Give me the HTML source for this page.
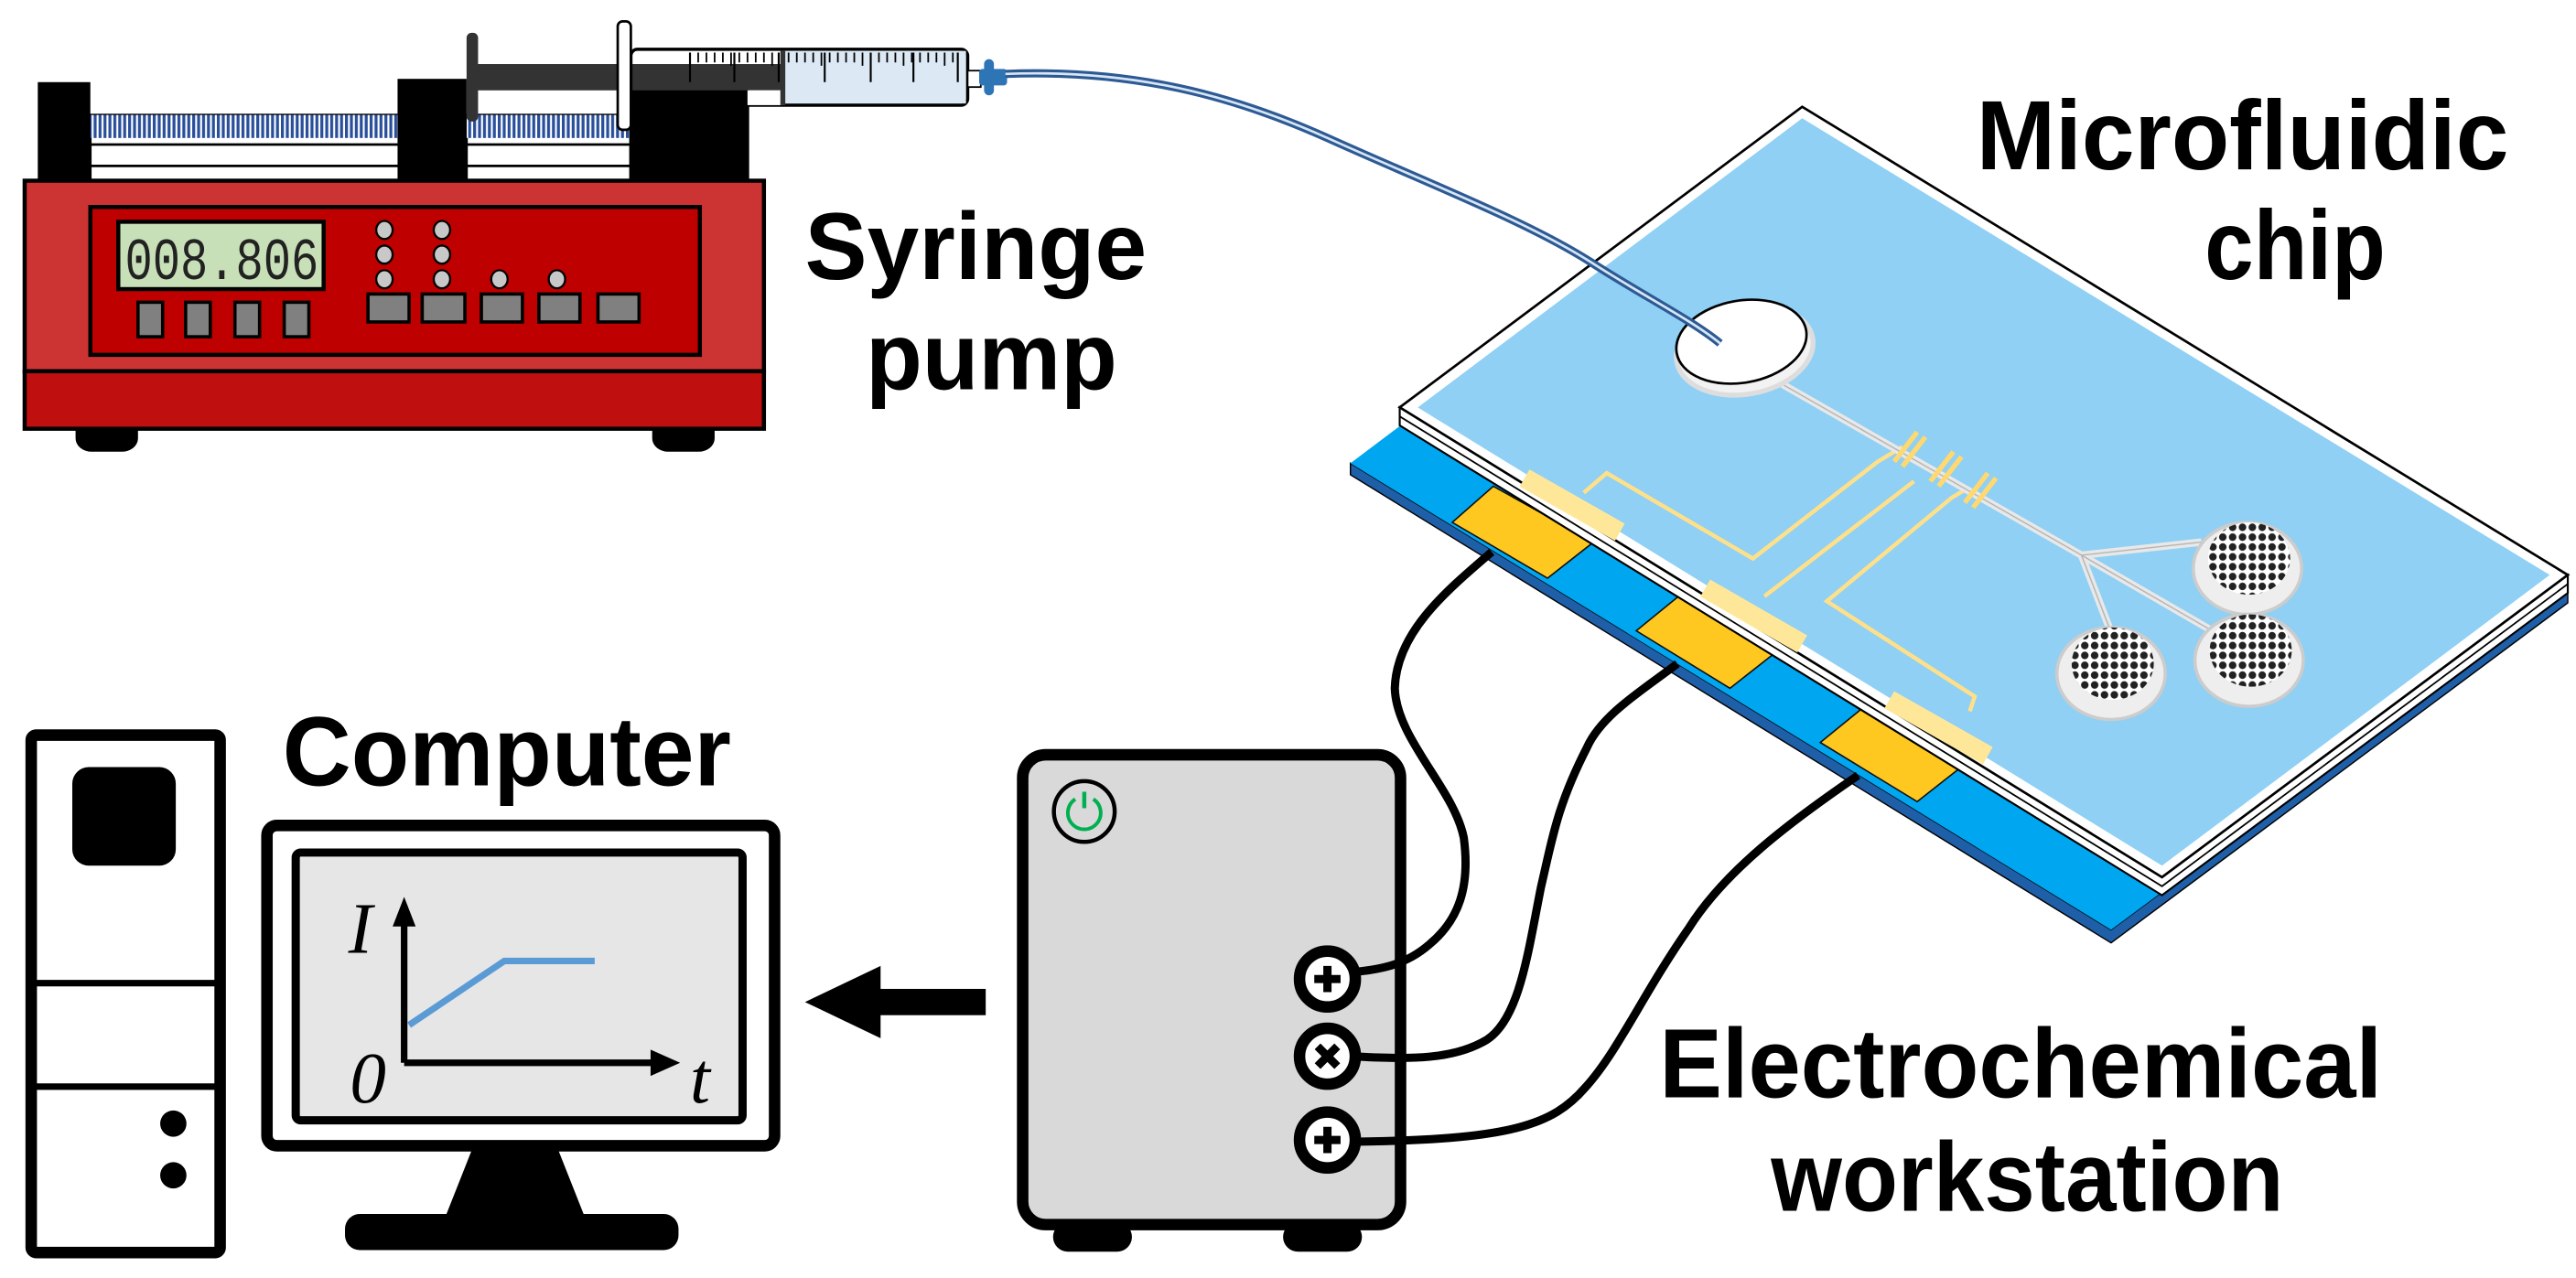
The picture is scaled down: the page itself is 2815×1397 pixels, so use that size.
<!DOCTYPE html>
<html><head><meta charset="utf-8"><style>
html,body{margin:0;padding:0;background:#fff}
svg{display:block}
text.l{font-family:"Liberation Sans",Arial,sans-serif;font-weight:bold;fill:#000}
text.m{font-family:"Liberation Serif",serif;font-style:italic;fill:#000}
</style></head><body>
<svg width="2815" height="1397" viewBox="0 0 1568 778" preserveAspectRatio="none" xmlns="http://www.w3.org/2000/svg">
<rect width="1568" height="778" fill="#fff"/>
<!-- Syringe pump rails -->
<rect x="55" y="70" width="188" height="40" fill="#fff" stroke="#000" stroke-width="1.5"/>
<rect x="284" y="70" width="100" height="40" fill="#fff" stroke="#000" stroke-width="1.5"/>
<g stroke="#000" stroke-width="1.5"><line x1="55" y1="88" x2="384" y2="88"/><line x1="55" y1="101" x2="384" y2="101"/></g>
<defs><pattern id="thr" width="3" height="10" patternUnits="userSpaceOnUse"><rect width="3" height="10" fill="#fff"/><rect width="1.8" height="10" fill="#2a4f9a"/></pattern>
<pattern id="pil" width="6" height="6" patternUnits="userSpaceOnUse"><rect width="6" height="6" fill="#fff"/><circle cx="3" cy="3" r="2.3" fill="#222"/></pattern></defs>
<rect x="55" y="70" width="188" height="14" fill="url(#thr)"/>
<rect x="284" y="70" width="100" height="14" fill="url(#thr)"/>
<rect x="23" y="50" width="32" height="60" fill="#000"/>
<rect x="242" y="48" width="42" height="62" fill="#000"/>
<rect x="383" y="51" width="73" height="59" fill="#000"/>
<!-- plunger & syringe -->
<rect x="290" y="39" width="187" height="16" fill="#333"/>
<rect x="284" y="20" width="7" height="54" rx="3" fill="#333"/>
<rect x="384" y="30" width="205" height="34" rx="4" fill="none" stroke="#000" stroke-width="2"/>
<rect x="477" y="31" width="111" height="32" fill="#dce9f5"/>
<rect x="455" y="55" width="22" height="9" fill="#fff"/>
<rect x="475" y="31" width="3" height="33" fill="#333"/>
<g stroke="#000" stroke-width="1">
<path d="M420 32v8M425 32v6M430 32v6M435 32v6M440 32v6M445 32v8M450 32v6M455 32v6M460 32v6M465 32v6M470 32v8M480 32v6M485 32v6M490 32v6M495 32v6M500 32v8M505 32v6M510 32v6M515 32v6M520 32v6M525 32v8M530 32v6M535 32v6M540 32v6M545 32v6M550 32v8M555 32v6M560 32v6M565 32v6M570 32v6M575 32v8M580 32v6"/>
<path d="M420 32v18M447 32v18M474 32v18M502 32v18M530 32v18M556 32v18M583 32v18" stroke-width="1.2"/>
</g>
<rect x="376" y="13" width="8" height="66" rx="3" fill="#fff" stroke="#000" stroke-width="1.5"/>
<rect x="589" y="43" width="8" height="10" fill="#fff" stroke="#000" stroke-width="1"/>
<rect x="596" y="42" width="17" height="10" rx="2" fill="#2e75b6"/>
<rect x="599" y="36" width="6" height="22" rx="3" fill="#2e75b6"/>
<!-- pump body -->
<rect x="15" y="110" width="450" height="116" fill="#cc3333" stroke="#000" stroke-width="2.5"/>
<rect x="15" y="226" width="450" height="35" fill="#c00f0f" stroke="#000" stroke-width="2.5"/>
<rect x="55" y="126" width="371" height="90" fill="#bf0000" stroke="#000" stroke-width="2.5"/>
<rect x="72" y="135" width="125" height="41" fill="#c8e0b8" stroke="#000" stroke-width="2.5"/>
<text x="76" y="170" font-family="Liberation Mono,monospace" font-size="36" textLength="118" lengthAdjust="spacingAndGlyphs" fill="#222">008.806</text>
<g fill="#808080" stroke="#000" stroke-width="2">
<rect x="84" y="184" width="15" height="21"/><rect x="113" y="184" width="15" height="21"/><rect x="143" y="184" width="15" height="21"/><rect x="173" y="184" width="15" height="21"/>
<rect x="224" y="179" width="25" height="17"/><rect x="257" y="179" width="26" height="17"/><rect x="293" y="179" width="25" height="17"/><rect x="328" y="179" width="25" height="17"/><rect x="364" y="179" width="25" height="17"/>
</g>
<g fill="#c8c8c8" stroke="#000" stroke-width="1.3">
<ellipse cx="234" cy="140" rx="5" ry="5.5"/><ellipse cx="269" cy="140" rx="5" ry="5.5"/>
<ellipse cx="234" cy="155" rx="5" ry="5.5"/><ellipse cx="269" cy="155" rx="5" ry="5.5"/>
<ellipse cx="234" cy="170" rx="5" ry="5.5"/><ellipse cx="269" cy="170" rx="5" ry="5.5"/>
<ellipse cx="304" cy="170" rx="5" ry="5.5"/><ellipse cx="339" cy="170" rx="5" ry="5.5"/>
</g>
<path d="M46 261h38v6a10 8 0 0 1-10 8h-18a10 8 0 0 1-10-8z" fill="#000"/>
<path d="M397 261h38v6a10 8 0 0 1-10 8h-18a10 8 0 0 1-10-8z" fill="#000"/>
<text class="l" x="490" y="170" font-size="58" textLength="208" lengthAdjust="spacingAndGlyphs">Syringe</text>
<text class="l" x="527" y="237" font-size="58" textLength="153" lengthAdjust="spacingAndGlyphs">pump</text>
<!-- chip substrate -->
<polygon points="822,282 1285,566 1563,360 1563,367 1285,574 822,289" fill="#1e5fa8" stroke="#000" stroke-width="0.8"/>
<polygon points="1097,75 1563,360 1285,566 822,282" fill="#00a6ef"/>
<!-- gold pads -->
<g fill="#ffc820" stroke="#111" stroke-width="0.9">
<polygon points="884,318 909,296 970,330 942,352"/>
<polygon points="996,384 1023,362 1081,397 1053,419"/>
<polygon points="1108,452 1135,430 1195,466 1167,488"/>
</g>
<!-- glass sides -->
<polygon points="852,248 1316,534 1563,350 1563,361 1316,545 852,259" fill="#fff" stroke="#000" stroke-width="1.2"/>
<polyline points="852,253.5 1316,539.5 1563,355.5" fill="none" stroke="#000" stroke-width="1"/>
<!-- glass top -->
<polygon points="1097,65 1563,350 1316,534 852,248" fill="#fff" stroke="#000" stroke-width="1.5"/>
<polygon points="1097,72 1552,350 1316,527 863,248" fill="#8fd0f4"/>
<!-- light pads under glass -->
<g stroke="#ffe79a" stroke-width="12" fill="none">
<line x1="928" y1="291" x2="986" y2="324"/>
<line x1="1038" y1="358" x2="1097" y2="392"/>
<line x1="1150" y1="426" x2="1210" y2="460"/>
</g>
<!-- electrode traces -->
<g fill="none" stroke="#ffe08a" stroke-width="2.5">
<polyline points="964,300 978,288 1067,340 1143,281 1158,272"/>
<polyline points="1074,363 1165,293"/>
<polyline points="1199,433 1202,424 1112,366 1188,303 1198,297"/>
</g>
<!-- channels -->
<g fill="none" stroke="#e8e8e8" stroke-width="4.5">
<path d="M1085 234 L1267 338 L1340 330"/>
<path d="M1267 338 L1285 385"/>
<path d="M1267 338 L1350 386"/>
</g>
<g fill="none" stroke="#b5b5b5" stroke-width="0.8">
<path d="M1085 234 L1267 338 L1340 330"/>
<path d="M1267 338 L1285 385"/>
<path d="M1267 338 L1350 386"/>
</g>
<!-- electrode bands -->
<g stroke="#ffd870" stroke-width="3">
<line x1="1153" y1="281" x2="1167" y2="263"/><line x1="1158" y1="284" x2="1172" y2="266"/>
<line x1="1175" y1="293" x2="1189" y2="275"/><line x1="1180" y1="296" x2="1194" y2="278"/>
<line x1="1196" y1="306" x2="1210" y2="288"/><line x1="1201" y1="309" x2="1215" y2="291"/>
</g>
<ellipse cx="1062" cy="213" rx="42" ry="27" transform="rotate(-10 1062 213)" fill="#f2f2f2" stroke="#ddd" stroke-width="3"/>
<ellipse cx="1060" cy="208" rx="40" ry="25" transform="rotate(-10 1060 208)" fill="#fff" stroke="#000" stroke-width="1.5"/>
<g stroke="#ccc" stroke-width="2">
<ellipse cx="1368" cy="346" rx="33" ry="28" fill="#eee"/><ellipse cx="1369" cy="340" rx="25" ry="22" fill="url(#pil)" stroke="none"/>
<ellipse cx="1285" cy="410" rx="33" ry="28" fill="#eee"/><ellipse cx="1286" cy="404" rx="25" ry="22" fill="url(#pil)" stroke="none"/>
<ellipse cx="1369" cy="402" rx="33" ry="28" fill="#eee"/><ellipse cx="1370" cy="396" rx="25" ry="22" fill="url(#pil)" stroke="none"/>
</g>
<!-- tube -->
<path d="M612 45 C 690 42 750 58 808 84 C 870 112 930 135 969 160 C 1000 180 1030 195 1047 209" fill="none" stroke="#2e5a94" stroke-width="5"/>
<path d="M612 45 C 690 42 750 58 808 84 C 870 112 930 135 969 160 C 1000 180 1030 195 1047 209" fill="none" stroke="#d6e6f5" stroke-width="1.5"/>
<text class="l" x="1203" y="103" font-size="60" textLength="324" lengthAdjust="spacingAndGlyphs">Microfluidic</text>
<text class="l" x="1342" y="170" font-size="60" textLength="110" lengthAdjust="spacingAndGlyphs">chip</text>
<!-- workstation -->
<rect x="641" y="744" width="48" height="18" rx="9" fill="#000"/><rect x="781" y="744" width="48" height="18" rx="9" fill="#000"/>
<rect x="622.5" y="459.5" width="230" height="286" rx="14" fill="#d9d9d9" stroke="#000" stroke-width="7"/>
<circle cx="660" cy="494" r="18.5" fill="#d9d9d9" stroke="#000" stroke-width="2.5"/>
<path d="M654.5 486.5 A10 10 0 1 0 665.5 486.5" fill="none" stroke="#00b050" stroke-width="2.2"/>
<line x1="660" y1="482" x2="660" y2="492" stroke="#00b050" stroke-width="2.5"/>
<!-- wires -->
<g fill="none" stroke="#000" stroke-width="5">
<path d="M908 336 C 880 360 850 385 849 419 C 850 450 885 480 891 510 C 895 540 888 560 870 575 C 855 588 840 590 822 592"/>
<path d="M1021 404 C 1000 420 975 435 966 455 C 948 490 945 510 938 540 C 930 580 925 620 905 633 C 885 645 860 645 822 643"/>
<path d="M1131 472 C 1090 500 1050 530 1028 565 C 1000 605 985 640 965 662 C 945 685 920 694 822 695"/>
</g>
<g>
<circle cx="808" cy="596" r="17" fill="#fff" stroke="#000" stroke-width="7"/><path d="M808 588v16M800 596h16" stroke="#000" stroke-width="5"/>
<circle cx="808" cy="643" r="17" fill="#fff" stroke="#000" stroke-width="7"/><path d="M802 637l12 12M814 637l-12 12" stroke="#000" stroke-width="5"/>
<circle cx="808" cy="694" r="17" fill="#fff" stroke="#000" stroke-width="7"/><path d="M808 686v16M800 694h16" stroke="#000" stroke-width="5"/>
</g>
<text class="l" x="1010" y="668" font-size="60" textLength="440" lengthAdjust="spacingAndGlyphs">Electrochemical</text>
<text class="l" x="1078" y="737" font-size="60" textLength="312" lengthAdjust="spacingAndGlyphs">workstation</text>
<!-- arrow -->
<rect x="530" y="602" width="70" height="16" fill="#000"/>
<polygon points="490,610 536,588 536,632" fill="#000"/>
<!-- computer tower -->
<rect x="19" y="447.5" width="115" height="315" rx="3" fill="#fff" stroke="#000" stroke-width="7"/>
<rect x="44" y="467" width="63" height="60" rx="10" fill="#000"/>
<line x1="19" y1="598.5" x2="134" y2="598.5" stroke="#000" stroke-width="4"/>
<line x1="19" y1="661.5" x2="134" y2="661.5" stroke="#000" stroke-width="4"/>
<ellipse cx="105.5" cy="684" rx="8" ry="8" fill="#000"/><ellipse cx="105.5" cy="715.5" rx="8" ry="8" fill="#000"/>
<!-- monitor -->
<polygon points="288,698 339,698 356,741 271,741" fill="#000"/>
<rect x="210" y="739" width="203" height="22" rx="9" fill="#000"/>
<rect x="162.5" y="502.5" width="309" height="195" rx="6" fill="#fff" stroke="#000" stroke-width="7"/>
<rect x="180" y="519" width="272" height="163" rx="3" fill="#e6e6e6" stroke="#000" stroke-width="5"/>
<path d="M246 647 V560" stroke="#000" stroke-width="4"/>
<polygon points="246,546 239,564 253,564" fill="#000"/>
<path d="M246 647 H400" stroke="#000" stroke-width="4"/>
<polygon points="414,647 396,639 396,655" fill="#000"/>
<path d="M249 624 L307 585 L362 585" fill="none" stroke="#5b9bd5" stroke-width="4"/>
<text class="m" x="212" y="580" font-size="44">I</text>
<text class="m" x="213" y="671" font-size="44">0</text>
<text class="m" x="420" y="671" font-size="44">t</text>
<text class="l" x="172" y="478" font-size="60" textLength="273" lengthAdjust="spacingAndGlyphs">Computer</text>
</svg>
</body></html>
